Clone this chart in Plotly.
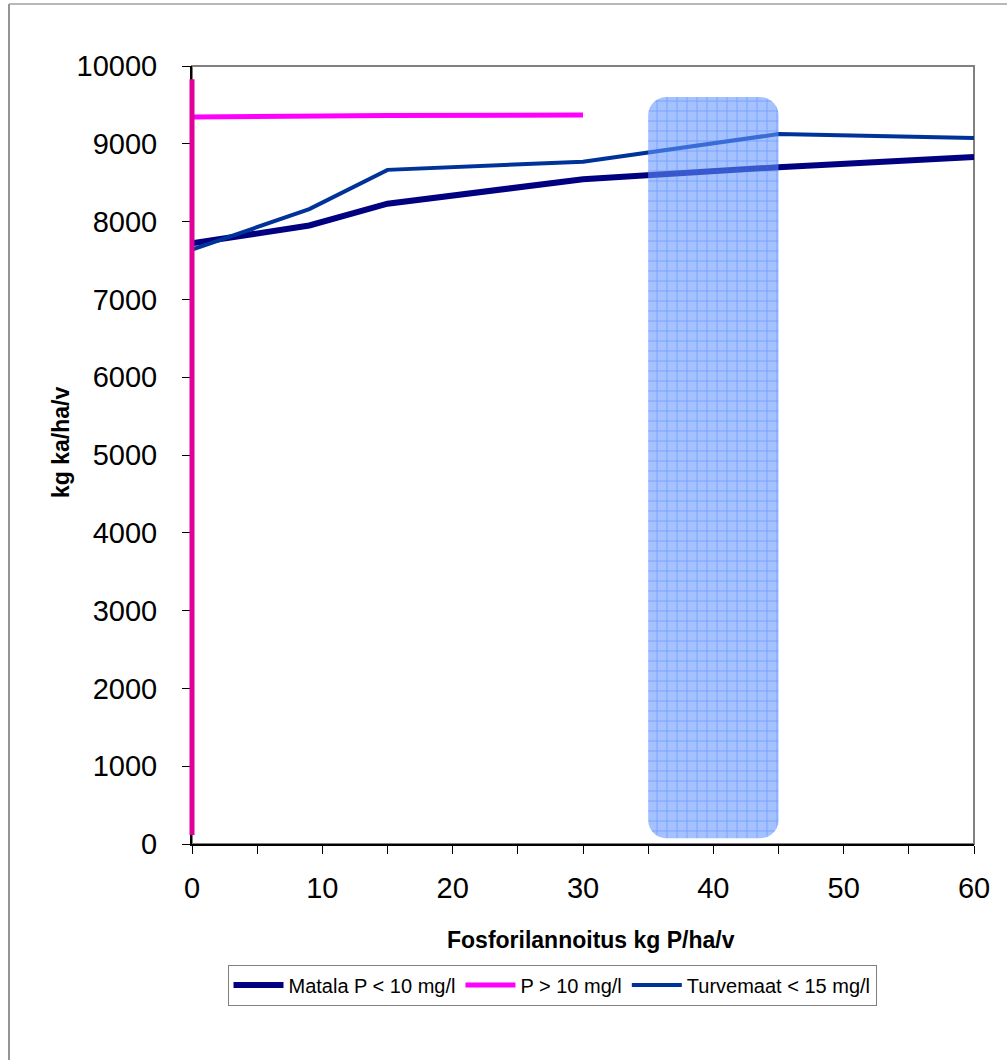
import numpy as np
import plotly.graph_objects as go

# ---- data ----
x_matala = [0, 9, 15, 30, 45, 60]
y_matala = [7720, 7950, 8230, 8545, 8700, 8830]

x_pgt10 = [0, 9, 15, 30]
y_pgt10 = [9345, 9360, 9365, 9370]

x_turve = [0, 9, 15, 30, 45, 60]
y_turve = [7640, 8160, 8665, 8770, 9125, 9075]

series_names = ["Matala P < 10 mg/l", "P > 10 mg/l", "Turvemaat < 15 mg/l"]

marker_bar_x = 0
marker_bar_y = [115, 9830]

highlight_x = [35, 45]
highlight_y = [75, 9600]

x_range = [0, 60]
y_range = [0, 10000]

# ---- layout geometry (body margin removed via post_script) ----
W, H = 1007, 1060
ML, MT = 192, 66
PW = 974 - 192
PH = 844 - 66
MR = W - ML - PW
MB = H - MT - PH


def px_x(p):
    return (p - ML) / PW


def px_y(p):
    return 1 - (p - MT) / PH


def rounded_rect(x0, x1, y0, y1, r_px=18, n=8):
    rx = r_px * (x_range[1] - x_range[0]) / PW
    ry = r_px * (y_range[1] - y_range[0]) / PH
    xs, ys = [], []
    corners = [
        (x1 - rx, y1 - ry, 0, 90),
        (x0 + rx, y1 - ry, 90, 180),
        (x0 + rx, y0 + ry, 180, 270),
        (x1 - rx, y0 + ry, 270, 360),
    ]
    for cx, cy, a0, a1 in corners:
        for a in np.linspace(np.radians(a0), np.radians(a1), n):
            xs.append(cx + rx * np.cos(a))
            ys.append(cy + ry * np.sin(a))
    xs.append(xs[0])
    ys.append(ys[0])
    return xs, ys


fig = go.Figure()

fig.add_trace(go.Scatter(x=x_matala, y=y_matala, mode="lines", name=series_names[0],
                         line=dict(color="#000080", width=6)))
fig.add_trace(go.Scatter(x=x_pgt10, y=y_pgt10, mode="lines", name=series_names[1],
                         line=dict(color="#FF00FF", width=5)))
fig.add_trace(go.Scatter(x=x_turve, y=y_turve, mode="lines", name=series_names[2],
                         line=dict(color="#003399", width=4)))

hx, hy = rounded_rect(highlight_x[0], highlight_x[1], highlight_y[0], highlight_y[1])
fig.add_trace(go.Scatter(x=hx, y=hy, mode="lines", fill="toself", showlegend=False,
                         line=dict(width=0), hoverinfo="skip",
                         fillpattern=dict(shape="+", size=10, solidity=0.15,
                                          fgcolor="rgba(40,100,255,0.85)",
                                          bgcolor="rgba(100,150,255,0.58)")))

# plot-area frame (gray top/right)
fig.add_shape(type="rect", xref="x domain", yref="y domain", x0=0, x1=1, y0=0, y1=1,
              line=dict(color="#808080", width=2), layer="below")
# outer chart border
fig.add_shape(type="line", xref="paper", yref="paper",
              x0=px_x(9), x1=px_x(9), y0=-2, y1=px_y(4),
              line=dict(color="#707070", width=1.5))
fig.add_shape(type="line", xref="paper", yref="paper",
              x0=px_x(9), x1=2, y0=px_y(4), y1=px_y(4),
              line=dict(color="#A0A0A0", width=1.5))

# magenta vertical bar at x=0 (paper x=0 is the data x=0, avoids clipping)
fig.add_shape(type="line", xref="paper", yref="y",
              x0=marker_bar_x / x_range[1], x1=marker_bar_x / x_range[1],
              y0=marker_bar_y[0], y1=marker_bar_y[1],
              line=dict(color="#E0009A", width=5), layer="above")

font_family = "Arial, Liberation Sans, sans-serif"

fig.add_annotation(text="<b>Fosforilannoitus kg P/ha/v</b>", xref="paper", yref="paper",
                   x=px_x(591), y=px_y(940), xanchor="center", yanchor="middle",
                   showarrow=False,
                   font=dict(size=23, family=font_family, color="black"))
fig.add_annotation(text="<b>kg ka/ha/v</b>", xref="paper", yref="paper",
                   x=px_x(61), y=px_y(443), xanchor="center", yanchor="middle",
                   textangle=-90, showarrow=False,
                   font=dict(size=23, family=font_family, color="black"))

fig.update_layout(
    width=W, height=H,
    margin=dict(l=ML, r=MR, t=MT, b=MB, autoexpand=False),
    paper_bgcolor="white", plot_bgcolor="white",
    font=dict(family=font_family, color="black"),
    showlegend=True,
    legend=dict(orientation="h", xanchor="center", yanchor="middle",
                x=px_x(552), y=px_y(985),
                bordercolor="#808080", borderwidth=1,
                font=dict(size=20, family=font_family), itemwidth=50,
                tracegroupgap=0),
)

fig.update_xaxes(range=x_range, dtick=10, tick0=0, showgrid=False, zeroline=False,
                 showline=True, linecolor="black", linewidth=2,
                 ticks="outside", ticklen=8, tickcolor="black",
                 minor=dict(dtick=5, ticks="outside", ticklen=8, tickcolor="black"),
                 tickfont=dict(size=29, family=font_family), ticklabelstandoff=9)
fig.update_yaxes(range=y_range, dtick=1000, tick0=0, showgrid=False, zeroline=False,
                 showline=True, linecolor="black", linewidth=2, tickformat="d",
                 ticks="outside", ticklen=8, tickcolor="black",
                 tickfont=dict(size=29, family=font_family), ticklabelstandoff=19)

fig.write_html("out.html", config={"displayModeBar": False},
               post_script="document.body.style.margin='0';document.body.style.overflow='hidden';")
